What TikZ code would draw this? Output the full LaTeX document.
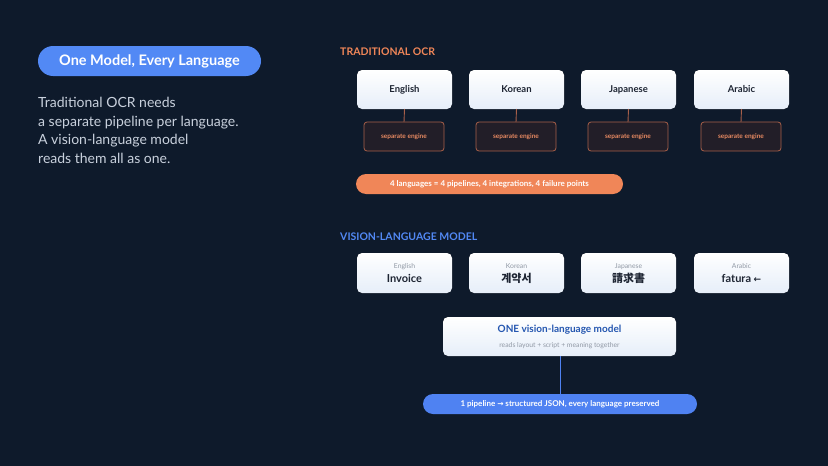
\documentclass[tikz,border=0pt]{standalone}
\usepackage{fontspec}
\setmainfont{Lato}
\newfontfamily\cjk{Noto Sans CJK KR}
\newfontfamily\cjkjp{Noto Sans CJK JP}
\newfontfamily\arrowfont{DejaVu Sans}
\definecolor{bg}{HTML}{0E1A2B}
\definecolor{pillblue}{HTML}{5289F5}
\definecolor{para}{HTML}{C9D1DD}
\definecolor{orangeT}{HTML}{F08658}
\definecolor{engfill}{HTML}{221E28}
\definecolor{engline}{HTML}{A8604A}
\definecolor{engtext}{HTML}{E88A62}
\definecolor{boxtop}{HTML}{FFFFFF}
\definecolor{boxbot}{HTML}{E6EEF9}
\definecolor{darktext}{HTML}{1E2533}
\definecolor{greytext}{HTML}{9098A4}
\definecolor{modelblue}{HTML}{2456B0}
\definecolor{bluepill}{HTML}{4F82F2}
\begin{document}
\begin{tikzpicture}[x=1pt,y=-1pt,
  lang/.style={rounded corners=5pt,top color=boxtop,bottom color=boxbot,draw=none},
  eng/.style={rounded corners=3pt,fill=engfill,draw=engline,line width=0.8pt},
  engt/.style={text=engtext,font=\fontsize{6.5}{7}\selectfont\bfseries},
  langt/.style={text=darktext,font=\fontsize{9.5}{10}\selectfont\bfseries},
  smallt/.style={text=greytext,font=\fontsize{6.8}{7}\selectfont},
  conn/.style={engline,line width=0.9pt}]
\fill[bg] (0,0) rectangle (828,466);
\useasboundingbox (0,0) rectangle (828,466);
% title pill
\fill[pillblue,rounded corners=15pt] (38,46) rectangle (261,76);
\node[text=white,font=\fontsize{14.5}{15}\selectfont\bfseries] (title) at (149.5,61.5) {One Model, Every Language};
\node[anchor=north west,text=para,font=\fontsize{14}{18.5}\selectfont,align=left,inner sep=0pt] (para) at (38,97)
 {Traditional OCR needs\\a separate pipeline per language.\\A vision-language model\\reads them all as one.};
% traditional
\node[anchor=west,text=orangeT,font=\fontsize{10.5}{12}\selectfont\bfseries,inner sep=0pt] (h1) at (340,52) {TRADITIONAL OCR};
\foreach \n/\x/\t in {a/357/English,b/469/Korean,c/581/Japanese,d/694/Arabic}{
  \fill[lang] (\x,70) rectangle ++(95,39);
  \node[langt] (L\n) at (\x+47.5,89.5) {\t};
  \coordinate (Lb\n) at (\x+47.5,109);
  \draw[eng] (\x+7,122) rectangle ++(80,29);
  \node[engt] (E\n) at (\x+47,136.5) {separate engine};
  \coordinate (Et\n) at (\x+47,122);
  \draw[conn] (Lb\n) -- (Et\n);
}
\fill[orangeT,rounded corners=10pt] (356,174) rectangle (623,194);
\node[text=white,font=\fontsize{8}{9}\selectfont\bfseries] (opill) at (489.5,184) {4 languages = 4 pipelines, 4 integrations, 4 failure points};
% VLM
\node[anchor=west,text=pillblue,font=\fontsize{10.5}{12}\selectfont\bfseries,inner sep=0pt] (h2) at (340,237) {VISION-LANGUAGE MODEL};
\foreach \n/\x/\s in {a/357/English,b/469/Korean,c/581/Japanese,d/694/Arabic}{
  \fill[lang] (\x,253) rectangle ++(95,40);
  \node[smallt] (S\n) at (\x+47.5,266.5) {\s};
}
\node[langt,font=\fontsize{11}{11}\selectfont\bfseries] (Wa) at (404.5,278) {Invoice};
\node[langt,font=\fontsize{11}{11}\selectfont\cjk\bfseries] (Wb) at (516.5,278) {계약서};
\node[langt,font=\fontsize{11}{11}\selectfont\cjkjp\bfseries] (Wc) at (628.5,278) {請求書};
\node[langt,font=\fontsize{11}{11}\selectfont\bfseries] (Wd) at (741.5,278) {fatura {\arrowfont\fontsize{9}{9}\selectfont ←}};
\fill[lang] (443,317) rectangle (676,356);
\node[text=modelblue,font=\fontsize{10}{11}\selectfont\bfseries] (M) at (559.5,330) {ONE vision-language model};
\node[smallt] (Ms) at (559.5,346) {reads layout + script + meaning together};
\coordinate (Mb) at (560,356);
\fill[bluepill,rounded corners=10pt] (423,394) rectangle (697,414);
\node[text=white,font=\fontsize{8}{9}\selectfont\bfseries] (bp) at (560,404) {1 pipeline {\arrowfont\fontsize{7.5}{8}\selectfont →} structured JSON, every language preserved};
\coordinate (bt) at (560,394);
\draw[bluepill,line width=0.9pt] (Mb) -- (bt);
\end{tikzpicture}
\end{document}
